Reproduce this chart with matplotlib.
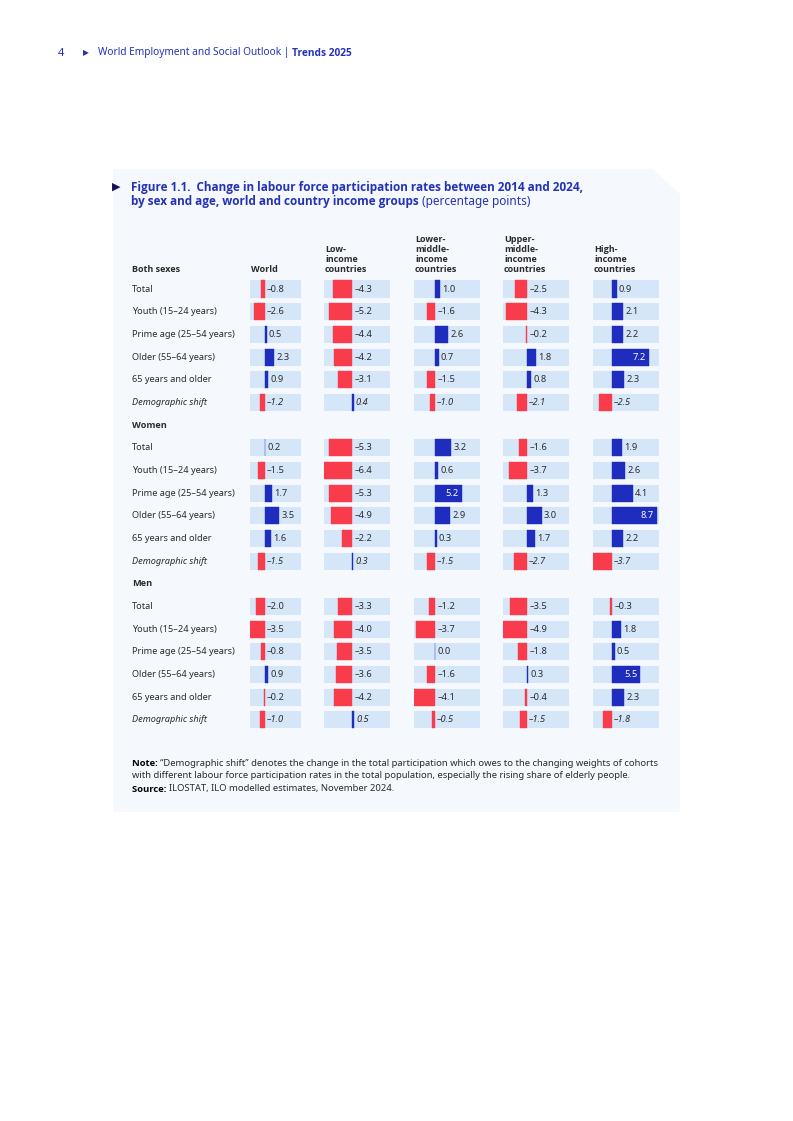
import matplotlib.pyplot as plt
from matplotlib.patches import Polygon

plt.rcParams['font.family'] = ['Noto Sans', 'DejaVu Sans']
BOLD = ['Open Sans', 'DejaVu Sans']

# --- data ---
groups = ["Both sexes", "Women", "Men"]
row_labels = ["Total", "Youth (15–24 years)", "Prime age (25–54 years)",
              "Older (55–64 years)", "65 years and older", "Demographic shift"]
col_labels = ["World", "Low-\nincome\ncountries", "Lower-\nmiddle-\nincome\ncountries",
              "Upper-\nmiddle-\nincome\ncountries", "High-\nincome\ncountries"]

# values per column: both sexes (6), women (6), men (6)
world = [-0.8, -2.6, 0.5, 2.3, 0.9, -1.2,
         0.2, -1.5, 1.7, 3.5, 1.6, -1.5,
         -2.0, -3.5, -0.8, 0.9, -0.2, -1.0]
low_income = [-4.3, -5.2, -4.4, -4.2, -3.1, 0.4,
              -5.3, -6.4, -5.3, -4.9, -2.2, 0.3,
              -3.3, -4.0, -3.5, -3.6, -4.2, 0.5]
lower_middle = [1.0, -1.6, 2.6, 0.7, -1.5, -1.0,
                3.2, 0.6, 5.2, 2.9, 0.3, -1.5,
                -1.2, -3.7, 0.0, -1.6, -4.1, -0.5]
upper_middle = [-2.5, -4.3, -0.2, 1.8, 0.8, -2.1,
                -1.6, -3.7, 1.3, 3.0, 1.7, -2.7,
                -3.5, -4.9, -1.8, 0.3, -0.4, -1.5]
high_income = [0.9, 2.1, 2.2, 7.2, 2.3, -2.5,
               1.9, 2.6, 4.1, 8.7, 2.2, -3.7,
               -0.3, 1.8, 0.5, 5.5, 2.3, -1.8]
columns = [world, low_income, lower_middle, upper_middle, high_income]

# --- layout (pixels) ---
W, H = 793, 1121
col_left = [250, 324, 414, 503, 593]
col_width = [51, 66, 66, 66, 66]
col_right_lim = [8.8, 8.7, 8.8, 8.6, 9.15]
row0_y = 289
row_step = 22.68
n_rows = 20

RED = "#F83C4C"
BLUE = "#1E2DBE"
CELL = "#D5E6F9"
PANEL = "#F5F8FC"
TXT = "#2B2B2B"
TITLE = "#2432B8"

fig = plt.figure(figsize=(W / 100, H / 100), dpi=100)
bg = fig.add_axes([0, 0, 1, 1])
bg.set_xlim(0, W)
bg.set_ylim(H, 0)
bg.axis("off")


def run_text(x, y, parts, **kw):
    # draw text pieces one after another on the same line
    for s, extra in parts:
        opts = dict(kw)
        opts.update(extra)
        t = bg.text(x, y, s, **opts)
        fig.canvas.draw()
        x += t.get_window_extent().width
    return x


# panel with cut corner
bg.add_patch(Polygon([(113, 169), (653, 169), (680, 194), (680, 812), (113, 812)],
                     closed=True, facecolor=PANEL, edgecolor="none"))

# page header
bg.text(58, 53, "4", color=TITLE, fontsize=8, va="center")
bg.text(83, 53, "▶", color=TITLE, fontsize=5.5, va="center", family="DejaVu Sans")
run_text(98, 53, [("World Employment and Social Outlook | ", {}),
                  ("Trends 2025", {"fontweight": "bold", "family": BOLD})],
         color=TITLE, fontsize=7.3, va="center")

# title
bg.text(112, 187, "▶", color="#1A1060", fontsize=8, va="center", family="DejaVu Sans")
bg.text(131, 187, "Figure 1.1.  Change in labour force participation rates between 2014 and 2024,",
        color=TITLE, fontsize=8.5, fontweight="bold", family=BOLD, va="center")
run_text(131, 202, [("by sex and age, world and country income groups ",
                     {"fontweight": "bold", "family": BOLD}),
                    ("(percentage points)", {})],
         color=TITLE, fontsize=8.5, va="center")

# column headers
bg.text(132, 272, groups[0], color=TXT, fontsize=6.5, fontweight="bold", family=BOLD,
        va="baseline")
for lab, x in zip(col_labels, col_left):
    bg.text(x + 1, 272, lab, color=TXT, fontsize=6.5, fontweight="bold", family=BOLD,
            va="baseline", ha="left", linespacing=1.15, multialignment="left")

# row labels
for g, grp in enumerate(groups):
    if g > 0:
        k = g * 7 - 1
        bg.text(132, row0_y + row_step * k, grp, color=TXT, fontsize=6.6,
                fontweight="bold", family=BOLD, va="center")
    for j, lab in enumerate(row_labels):
        k = g * 7 + j
        bg.text(132, row0_y + row_step * k, lab, color=TXT, fontsize=6.6, va="center",
                style="italic" if j == 5 else "normal")

# bar cells
ax_top = row0_y - row_step / 2
ax_bot = row0_y + row_step * (n_rows - 1) + row_step / 2
for c, vals in enumerate(columns):
    ax = fig.add_axes([col_left[c] / W, 1 - ax_bot / H, col_width[c] / W, (ax_bot - ax_top) / H])
    ax.patch.set_alpha(0)
    lo = min(vals)
    hi = col_right_lim[c]
    ax.set_xlim(lo, hi)
    ax.set_ylim(n_rows - 0.5, -0.5)
    ax.axis("off")
    ks = [g * 7 + j for g in range(3) for j in range(6)]
    ax.barh(ks, [hi - lo] * len(ks), left=lo, height=0.75, color=CELL)
    colors = [RED if v < 0 else BLUE for v in vals]
    ax.barh(ks, vals, height=0.75, color=colors, edgecolor=colors, linewidth=0.3)
    px_per_unit = col_width[c] / (hi - lo)
    for idx, (k, v) in enumerate(zip(ks, vals)):
        label = f"{v:.1f}".replace("-", "–")
        style = "italic" if idx % 6 == 5 else "normal"
        if v > 0 and (hi - v) * px_per_unit < 20:
            ax.annotate(label, (v, k), xytext=(-2, 0), textcoords="offset points",
                        ha="right", va="center", color="white", fontsize=6.7, style=style)
        else:
            ax.annotate(label, (max(v, 0), k), xytext=(1.6, 0), textcoords="offset points",
                        ha="left", va="center", color=TXT, fontsize=6.7, style=style)

# note and source
run_text(132, 763, [("Note: ", {"fontweight": "bold", "family": BOLD, "color": "black"}),
                    ("“Demographic shift” denotes the change in the total participation which owes to the changing weights of cohorts", {})],
         color=TXT, fontsize=6.8, va="center")
bg.text(132, 776, "with different labour force participation rates in the total population, especially the rising share of elderly people.",
        color=TXT, fontsize=6.8, va="center")
run_text(132, 789, [("Source: ", {"fontweight": "bold", "family": BOLD, "color": "black"}),
                    ("ILOSTAT, ILO modelled estimates, November 2024.", {})],
         color=TXT, fontsize=6.8, va="center")

fig.savefig("out.png", dpi=100)
